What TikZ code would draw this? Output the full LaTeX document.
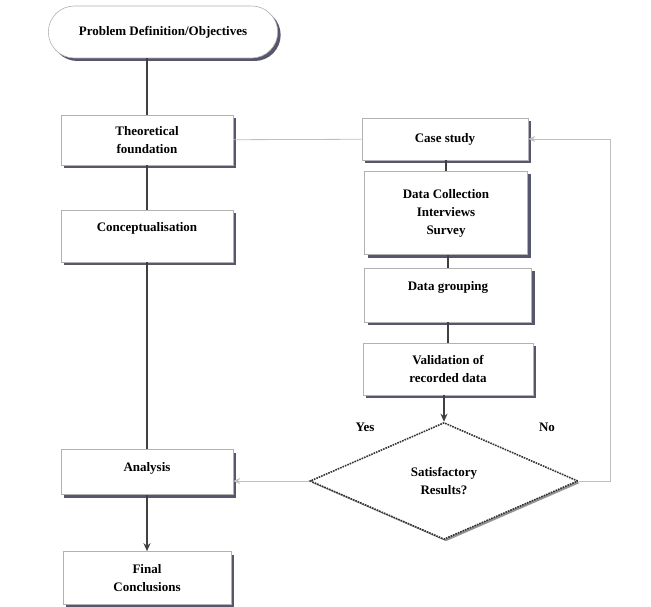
\documentclass[tikz,border=0pt]{standalone}
\usepackage{fontspec}
\setmainfont{Liberation Serif}
\usetikzlibrary{shadows, shapes.geometric, shapes.misc, arrows.meta}
\definecolor{ShadowBlue}{RGB}{30, 30, 60}

\begin{document}
\begin{tikzpicture}[x=1pt, y=-1pt,
    box/.style={draw=gray!60, line width=0.6pt, fill=white, align=center,
                font=\fontsize{13}{18}\selectfont\bfseries,
                drop shadow={shadow xshift=3pt, shadow yshift=-3pt, fill=ShadowBlue, opacity=0.75}},
    link/.style={draw=gray!50!black, line width=1.3pt},
    thin link/.style={draw=gray!50, line width=0.8pt},
    tag/.style={font=\fontsize{13}{14}\selectfont\bfseries}]
    \path[use as bounding box] (0,0) rectangle (651,607);

    % Left column
    \node[rounded rectangle, box, minimum width=236pt, minimum height=52pt] (obj) at (163,32) {Problem Definition/Objectives};
    \node[rectangle, box, minimum width=172pt, minimum height=50pt] (theo) at (147,140) {Theoretical\\foundation};
    \node[rectangle, box, minimum width=172pt, minimum height=52pt, text depth=18pt] (concept) at (147,236) {Conceptualisation};
    \node[rectangle, box, minimum width=172pt, minimum height=45pt, text depth=10pt] (analysis) at (147,472) {Analysis};
    \node[rectangle, box, minimum width=168pt, minimum height=53pt] (final) at (147,578) {Final\\Conclusions};

    % Right column
    \node[rectangle, box, minimum width=166pt, minimum height=42pt] (case) at (445,139) {Case study};
    \node[rectangle, box, minimum width=163pt, minimum height=83pt] (collect) at (446,213) {Data Collection\\Interviews\\Survey};
    \node[rectangle, box, minimum width=167pt, minimum height=54pt, text depth=18pt] (group) at (448,295) {Data grouping};
    \node[rectangle, box, minimum width=170pt, minimum height=52pt] (valid) at (448,369) {Validation of\\recorded data};

    % Decision
    \node[diamond, draw=gray!40!black, densely dotted, line width=1.6pt, fill=white, align=center,
          minimum width=268pt, minimum height=117pt, inner sep=0pt,
          drop shadow={shadow xshift=2pt, shadow yshift=-2pt, fill=gray!60!black, opacity=0.6},
          font=\fontsize{13}{18}\selectfont\bfseries] (sat) at (444,481) {Satisfactory\\Results?};
    \node[tag] (yes) at (365,427) {Yes};
    \node[tag] (no) at (547,427) {No};
    \coordinate (back) at (610,481);

    % Connections
    \draw[link] (obj.south -| theo.north) -- (theo.north);
    \draw[link] (theo) -- (concept);
    \draw[link] (concept) -- (analysis);
    \draw[link, -{Stealth[length=8pt, width=7pt]}] (analysis) -- (final);
    \draw[thin link] (theo) -- (case);
    \draw[link] (case.south -| collect.north) -- (collect.north);
    \draw[link] (collect.south -| group.north) -- (group.north);
    \draw[link] (group.south -| valid.north) -- (valid.north);
    \draw[link, -{Stealth[length=8pt, width=7pt]}] (valid.south -| sat.north) -- (sat.north);
    \draw[thin link, -{Stealth[length=7pt, width=6pt]}] (sat.west) -- (sat.west -| analysis.east);
    \draw[thin link, -{Stealth[length=7pt, width=6pt]}] (sat.east) -- (back) |- (case.east);
\end{tikzpicture}
\end{document}
